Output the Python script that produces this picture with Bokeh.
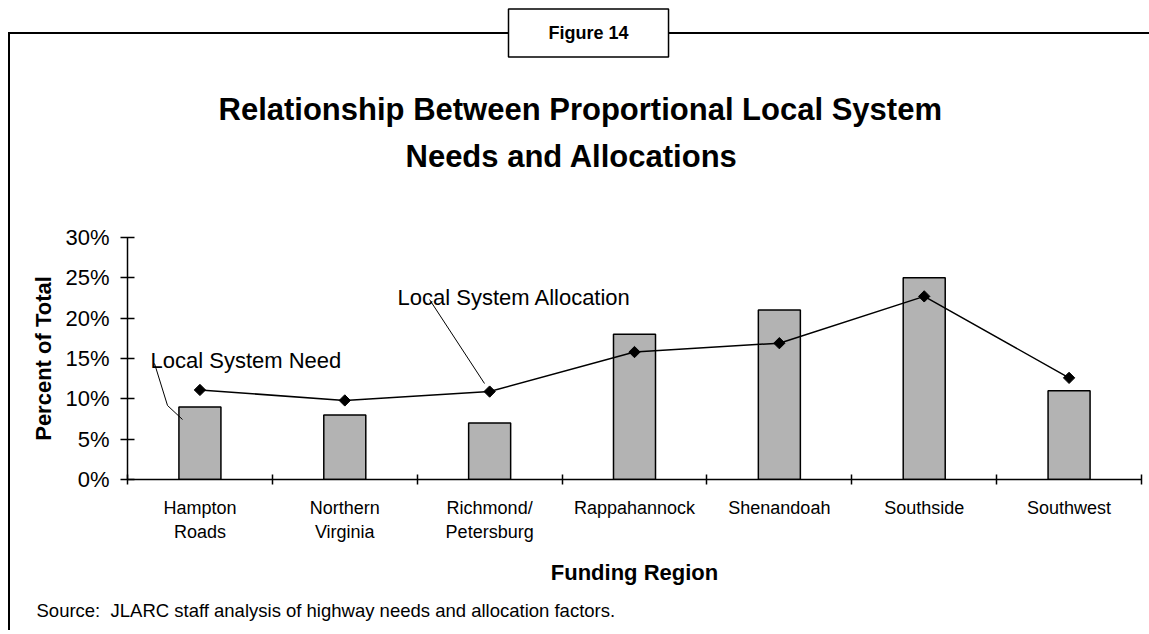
import numpy as np
from bokeh.plotting import figure
from bokeh.models import (Range1d, LinearAxis, FixedTicker, PrintfTickFormatter, Label,
                          ColumnDataSource, Title)
from bokeh.embed import file_html
from bokeh.resources import INLINE

# ---------------- data ----------------
regions = ["Hampton\nRoads", "Northern\nVirginia", "Richmond/\nPetersburg",
           "Rappahannock", "Shenandoah", "Southside", "Southwest"]
need = [9, 8, 7, 18, 21, 25, 11]                       # Local System Need (%)
allocation = [11.1, 9.8, 10.9, 15.8, 16.9, 22.7, 12.6]  # Local System Allocation (%)
y_ticks = [0, 5, 10, 15, 20, 25, 30]

title_lines = ["Relationship Between Proportional Local System", "Needs and Allocations"]
figure_tag = "Figure 14"
source_text = "Source:\u00a0 JLARC staff analysis of highway needs and allocation factors."

# ---------------- layout ----------------
FONT = "Liberation Sans"
W, H = 1149, 630
ML, MT = 127, 237
FW = 1014
FH = 242
MR = W - ML - FW
MB = H - MT - FH
YMAX = 30
N = len(regions)

p = figure(width=W, height=H, x_range=Range1d(0, N), y_range=Range1d(0, YMAX),
           x_axis_location=None, y_axis_location=None,
           output_backend="svg", toolbar_location=None,
           min_border_left=ML, min_border_right=MR, min_border_top=MT, min_border_bottom=MB)
p.outline_line_color = None
p.background_fill_color = "white"
p.border_fill_color = None
p.title = None
# page frame: left rule and top rule (the "Figure 14" box is drawn over the top rule)
p.styles = {
    "background-color": "white",
    "background-image": "linear-gradient(#000, #000), linear-gradient(#000, #000)",
    "background-repeat": "no-repeat, no-repeat",
    "background-position": "8px 32px, 8px 32px",
    "background-size": "2px 600px, 1141px 2px",
}

CW = FW / N
PY = FH / YMAX


def xd(px):
    return (px - ML) / CW


def yd(py):
    return (MT + FH - py) / PY


centers = [i + 0.5 for i in range(N)]   # category slot centres on the x scale
src = ColumnDataSource(dict(x=centers, region=regions, need=need, allocation=allocation))

# y axis
yax = LinearAxis(ticker=FixedTicker(ticks=y_ticks), formatter=PrintfTickFormatter(format="%d%%"))
yax.axis_label = "Percent of Total"
yax.axis_label_text_font = FONT
yax.axis_label_text_font_style = "bold"
yax.axis_label_text_font_size = "22px"
yax.axis_label_text_color = "black"
yax.axis_label_standoff = 6
yax.major_label_text_font = FONT
yax.major_label_text_font_size = "22px"
yax.major_label_text_color = "black"
yax.major_label_standoff = 11
yax.major_tick_in = 7
yax.major_tick_out = 7
yax.minor_tick_line_color = None
yax.axis_line_width = 1.5
yax.major_tick_line_width = 1.5
yax.axis_line_color = "black"
yax.major_tick_line_color = "black"
p.add_layout(yax, "left")

# x axis: labels at slot centres, tick marks between categories
xax = LinearAxis(ticker=FixedTicker(ticks=centers, minor_ticks=list(range(N + 1))),
                 major_label_overrides={c: r for c, r in zip(centers, regions)})
xax.axis_line_color = "black"
xax.axis_line_width = 1.5
xax.major_tick_line_color = None
xax.major_tick_out = 5
xax.major_tick_in = 0
xax.minor_tick_line_color = "black"
xax.minor_tick_line_width = 1.5
xax.minor_tick_in = 5
xax.minor_tick_out = 5
xax.major_label_text_font = FONT
xax.major_label_text_font_size = "18px"
xax.major_label_text_color = "black"
xax.major_label_standoff = 13
xax.axis_label = "Funding Region"
xax.axis_label_text_font = FONT
xax.axis_label_text_font_style = "bold"
xax.axis_label_text_font_size = "22px"
xax.axis_label_text_color = "black"
xax.axis_label_standoff = 15
p.add_layout(xax, "below")

p.grid.grid_line_color = None

# bars and line
p.vbar(x="x", top="need", width=0.29, source=src, fill_color="#b3b3b3",
       line_color="black", line_width=1.5)
p.line(x="x", y="allocation", source=src, line_color="black", line_width=1.5)
p.scatter(x="x", y="allocation", source=src, marker="square", angle=np.pi / 4, size=8,
          fill_color="black", line_color="black")

# callouts
p.line(x=[xd(154), xd(167), xd(182)], y=[yd(363), yd(405), yd(419)],
       line_color="black", line_width=1)
p.line(x=[xd(429), xd(484)], y=[yd(299), yd(383)], line_color="black", line_width=1)
p.add_layout(Label(x=xd(150), y=yd(359.5), text="Local System Need", text_color="black",
                   text_font=FONT, text_font_size="22px", text_baseline="alphabetic"))
p.add_layout(Label(x=xd(397), y=yd(296.7), text="Local System Allocation", text_color="black",
                   text_font=FONT, text_font_size="22px", text_baseline="alphabetic"))


def spacer(gap):
    return Title(text=" ", text_font_size="1px", standoff=gap)


# titles stacked above the plot (closest to the frame first)
t2 = Title(text=title_lines[1], align="left", offset=405 - ML, standoff=10,
           text_font=FONT, text_font_size="31px", text_font_style="bold", text_color="black")
t1 = Title(text=title_lines[0], align="left", offset=218 - ML, standoff=9,
           text_font=FONT, text_font_size="31px", text_font_style="bold", text_color="black")
tf = Title(text=figure_tag, align="left", offset=508 - ML, standoff=13,
           text_font=FONT, text_font_size="18px", text_font_style="bold", text_color="black",
           background_fill_color="white", border_line_color="black", border_line_width=1.5,
           padding=(40, 14))
p.add_layout(spacer(56), "above")
p.add_layout(t2, "above")
p.add_layout(t1, "above")
p.add_layout(spacer(19), "above")
p.add_layout(tf, "above")

# source note below the axis title
ts = Title(text=source_text, align="left", offset=36 - ML, standoff=20,
           text_font=FONT, text_font_size="18.5px", text_font_style="normal", text_color="black")
p.add_layout(ts, "below")

open("out.html", "w").write(file_html(p, INLINE))
